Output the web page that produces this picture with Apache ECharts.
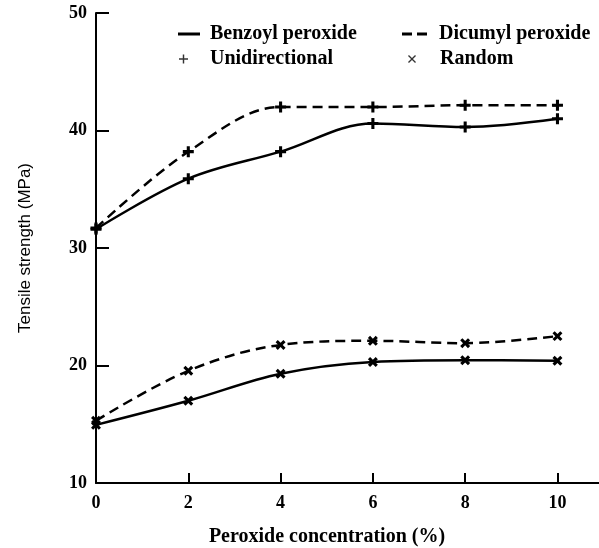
<!DOCTYPE html>
<html><head><meta charset="utf-8">
<script src="https://cdn.jsdelivr.net/npm/echarts@6/dist/echarts.min.js"></script>
<style>html,body{margin:0;padding:0;background:#fff}#c{width:599px;height:548px}</style>
</head><body><div id="c"></div>
<script>
const xValues = [0, 2, 4, 6, 8, 10];
const uniBenzoyl = [31.6, 35.9, 38.2, 40.6, 40.3, 41.0];
const uniDicumyl = [31.7, 38.2, 42.0, 42.0, 42.15, 42.15];
const ranBenzoyl = [14.95, 17.0, 19.3, 20.3, 20.45, 20.4];
const ranDicumyl = [15.3, 19.55, 21.75, 22.1, 21.9, 22.5];
const xTickLabels = [0, 2, 4, 6, 8, 10];
const yTickLabels = [10, 20, 30, 40, 50];
const lineNames = ['Benzoyl peroxide', 'Dicumyl peroxide'];
const markerNames = ['Unidirectional', 'Random'];
const xTitle = 'Peroxide concentration (%)';
const yTitle = 'Tensile strength (MPa)';

const plus = 'path://M3.6,0H6.4V3.6H10V6.4H6.4V10H3.6V6.4H0V3.6H3.6Z';
const thinPlus = 'path://M4.2,0H5.8V4.2H10V5.8H5.8V10H4.2V5.8H0V4.2H4.2Z';
const cross = 'path://M0,1.2L1.2,0L5,3.8L8.8,0L10,1.2L6.2,5L10,8.8L8.8,10L5,6.2L1.2,10L0,8.8L3.8,5Z';
const solidIcon = 'path://M0,0H22V3H0Z';
const dashIcon = 'path://M0,0H10V3H0ZM15,0H25V3H15Z';
const serif = 'Liberation Serif, Times New Roman, serif';
const pairs = (ys) => xValues.map((x, i) => [x, ys[i]]);

function dataSeries(name, ys, dashed, rotate) {
  return {
    name: name, type: 'line', data: pairs(ys), smooth: 0.35, clip: false,
    symbol: plus, symbolSize: 11, symbolRotate: rotate,
    lineStyle: { color: '#000', width: 2.5, type: dashed ? [10, 6] : 'solid' },
    itemStyle: { color: '#000' }, silent: true
  };
}

function legendText(pad) {
  return { color: '#000', fontFamily: serif, fontWeight: 'bold', fontSize: 20, lineHeight: 22, padding: [0, 0, 0, pad] };
}

const chart = echarts.init(document.getElementById('c'), null, { renderer: 'canvas' });
chart.setOption({
  backgroundColor: '#fff',
  animation: false,
  title: {
    text: xTitle, left: 327, top: 527, textAlign: 'center', padding: 0,
    textStyle: { color: '#000', fontFamily: serif, fontWeight: 'bold', fontSize: 20 }
  },
  grid: { left: 96, right: 0, top: 13, bottom: 65, containLabel: false },
  legend: [
    { data: [{ name: lineNames[0], icon: solidIcon }], left: 173, top: 18, itemWidth: 22, itemHeight: 3, textStyle: legendText(5), selectedMode: false },
    { data: [{ name: lineNames[1], icon: dashIcon }], left: 397, top: 18, itemWidth: 25, itemHeight: 3, textStyle: legendText(7), selectedMode: false },
    { data: [{ name: markerNames[0], icon: thinPlus }], left: 174, top: 43, itemWidth: 9, itemHeight: 9, textStyle: legendText(17), selectedMode: false },
    { data: [{ name: markerNames[1], icon: cross }], left: 403, top: 43, itemWidth: 8, itemHeight: 8, textStyle: legendText(19), selectedMode: false }
  ],
  xAxis: {
    type: 'value', min: 0, max: 10.9,
    axisLine: { show: true, lineStyle: { color: '#000', width: 2 } },
    axisTick: { show: true, inside: true, length: 10, customValues: [2, 4, 6, 8, 10], lineStyle: { color: '#000', width: 2 } },
    axisLabel: { customValues: xTickLabels, color: '#000', fontFamily: serif, fontWeight: 'bold', fontSize: 18, margin: 11 },
    splitLine: { show: false }
  },
  yAxis: {
    type: 'value', min: 10, max: 50, interval: 10,
    axisLine: { show: true, lineStyle: { color: '#000', width: 2 } },
    axisTick: { show: true, inside: true, length: 13, customValues: [20, 30, 40, 50], lineStyle: { color: '#000', width: 2 } },
    axisLabel: { customValues: yTickLabels, color: '#000', fontFamily: serif, fontWeight: 'bold', fontSize: 18, margin: 9 },
    splitLine: { show: false },
    name: yTitle, nameLocation: 'middle', nameRotate: 90, nameGap: 62,
    nameTextStyle: { color: '#000', fontFamily: 'Liberation Sans, Arial, sans-serif', fontSize: 17 }
  },
  series: [
    dataSeries('uB', uniBenzoyl, false, 0),
    dataSeries('uD', uniDicumyl, true, 0),
    dataSeries('rB', ranBenzoyl, false, 45),
    dataSeries('rD', ranDicumyl, true, 45),
    { name: lineNames[0], type: 'line', data: [], symbol: 'none', lineStyle: { color: '#000', width: 2.5 }, itemStyle: { color: '#000' } },
    { name: lineNames[1], type: 'line', data: [], symbol: 'none', lineStyle: { color: '#000', width: 2.5, type: [10, 5] }, itemStyle: { color: '#000' } },
    { name: markerNames[0], type: 'scatter', data: [], symbol: thinPlus, itemStyle: { color: '#000' } },
    { name: markerNames[1], type: 'scatter', data: [], symbol: cross, itemStyle: { color: '#000' } }
  ]
});
</script></body></html>
